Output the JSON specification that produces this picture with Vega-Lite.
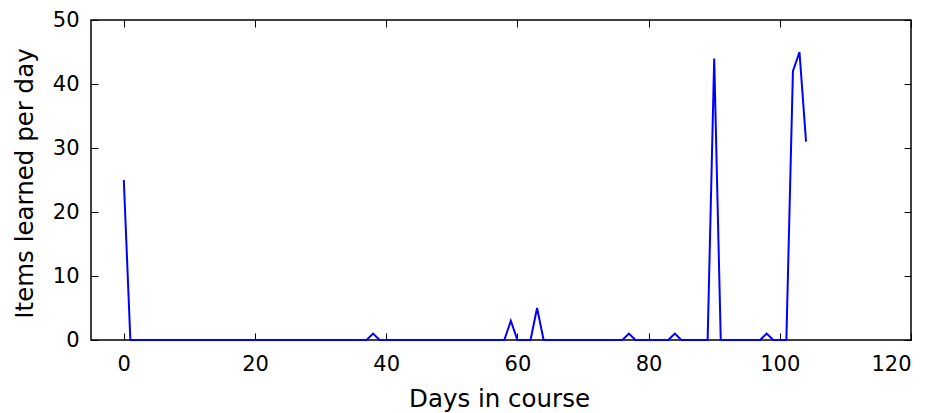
{
  "$schema": "https://vega.github.io/schema/vega-lite/v6.json",
  "width": 820,
  "height": 320,
  "autosize": {"type": "none"},
  "padding": {"left": 91, "top": 20, "right": 25, "bottom": 73},
  "background": "white",
  "config": {
    "view": {"stroke": "black", "strokeWidth": 1.5},
    "axis": {
      "domain": false,
      "grid": false,
      "tickColor": "black",
      "tickSize": -7,
      "tickWidth": 1,
      "labelFont": "DejaVu Sans",
      "labelFontSize": 21,
      "labelColor": "black",
      "titleFont": "DejaVu Sans",
      "titleFontSize": 24.5,
      "titleFontWeight": "normal",
      "titleColor": "black"
    }
  },
  "data": {
    "values": [
      {"day": 0, "items": 25}, {"day": 1, "items": 0}, {"day": 2, "items": 0}, {"day": 3, "items": 0}, {"day": 4, "items": 0},
      {"day": 5, "items": 0}, {"day": 6, "items": 0}, {"day": 7, "items": 0}, {"day": 8, "items": 0}, {"day": 9, "items": 0},
      {"day": 10, "items": 0}, {"day": 11, "items": 0}, {"day": 12, "items": 0}, {"day": 13, "items": 0}, {"day": 14, "items": 0},
      {"day": 15, "items": 0}, {"day": 16, "items": 0}, {"day": 17, "items": 0}, {"day": 18, "items": 0}, {"day": 19, "items": 0},
      {"day": 20, "items": 0}, {"day": 21, "items": 0}, {"day": 22, "items": 0}, {"day": 23, "items": 0}, {"day": 24, "items": 0},
      {"day": 25, "items": 0}, {"day": 26, "items": 0}, {"day": 27, "items": 0}, {"day": 28, "items": 0}, {"day": 29, "items": 0},
      {"day": 30, "items": 0}, {"day": 31, "items": 0}, {"day": 32, "items": 0}, {"day": 33, "items": 0}, {"day": 34, "items": 0},
      {"day": 35, "items": 0}, {"day": 36, "items": 0}, {"day": 37, "items": 0}, {"day": 38, "items": 1}, {"day": 39, "items": 0},
      {"day": 40, "items": 0}, {"day": 41, "items": 0}, {"day": 42, "items": 0}, {"day": 43, "items": 0}, {"day": 44, "items": 0},
      {"day": 45, "items": 0}, {"day": 46, "items": 0}, {"day": 47, "items": 0}, {"day": 48, "items": 0}, {"day": 49, "items": 0},
      {"day": 50, "items": 0}, {"day": 51, "items": 0}, {"day": 52, "items": 0}, {"day": 53, "items": 0}, {"day": 54, "items": 0},
      {"day": 55, "items": 0}, {"day": 56, "items": 0}, {"day": 57, "items": 0}, {"day": 58, "items": 0}, {"day": 59, "items": 3},
      {"day": 60, "items": 0}, {"day": 61, "items": 0}, {"day": 62, "items": 0}, {"day": 63, "items": 5}, {"day": 64, "items": 0},
      {"day": 65, "items": 0}, {"day": 66, "items": 0}, {"day": 67, "items": 0}, {"day": 68, "items": 0}, {"day": 69, "items": 0},
      {"day": 70, "items": 0}, {"day": 71, "items": 0}, {"day": 72, "items": 0}, {"day": 73, "items": 0}, {"day": 74, "items": 0},
      {"day": 75, "items": 0}, {"day": 76, "items": 0}, {"day": 77, "items": 1}, {"day": 78, "items": 0}, {"day": 79, "items": 0},
      {"day": 80, "items": 0}, {"day": 81, "items": 0}, {"day": 82, "items": 0}, {"day": 83, "items": 0}, {"day": 84, "items": 1},
      {"day": 85, "items": 0}, {"day": 86, "items": 0}, {"day": 87, "items": 0}, {"day": 88, "items": 0}, {"day": 89, "items": 0},
      {"day": 90, "items": 44}, {"day": 91, "items": 0}, {"day": 92, "items": 0}, {"day": 93, "items": 0}, {"day": 94, "items": 0},
      {"day": 95, "items": 0}, {"day": 96, "items": 0}, {"day": 97, "items": 0}, {"day": 98, "items": 1}, {"day": 99, "items": 0},
      {"day": 100, "items": 0}, {"day": 101, "items": 0}, {"day": 102, "items": 42}, {"day": 103, "items": 45}, {"day": 104, "items": 31}
    ]
  },
  "layer": [
    {
      "mark": {"type": "line", "color": "#0000ff", "strokeWidth": 2},
      "encoding": {
        "x": {
          "field": "day", "type": "quantitative",
          "scale": {"domain": [-5, 120], "nice": false, "zero": false},
          "axis": {"orient": "bottom", "values": [0, 20, 40, 60, 80, 100, 120], "labelPadding": 20, "title": "Days in course",
                   "titleX": 408, "titleY": 66, "titleBaseline": "alphabetic", "titleAlign": "center"}
        },
        "y": {
          "field": "items", "type": "quantitative",
          "scale": {"domain": [0, 50], "nice": false},
          "axis": {"orient": "left", "values": [0, 10, 20, 30, 40, 50], "labelPadding": 19, "title": "Items learned per day",
                   "titleX": -59, "titleY": 163, "titleAngle": -90, "titleBaseline": "alphabetic", "titleAlign": "center"}
        }
      }
    },
    {
      "mark": {"type": "line", "opacity": 0},
      "encoding": {
        "x": {
          "field": "day", "type": "quantitative",
          "axis": {"orient": "top", "values": [0, 20, 40, 60, 80, 100, 120], "labels": false, "title": null}
        },
        "y": {
          "field": "items", "type": "quantitative",
          "axis": {"orient": "right", "values": [0, 10, 20, 30, 40, 50], "labels": false, "title": null}
        }
      }
    }
  ],
  "resolve": {"axis": {"x": "independent", "y": "independent"}}
}
